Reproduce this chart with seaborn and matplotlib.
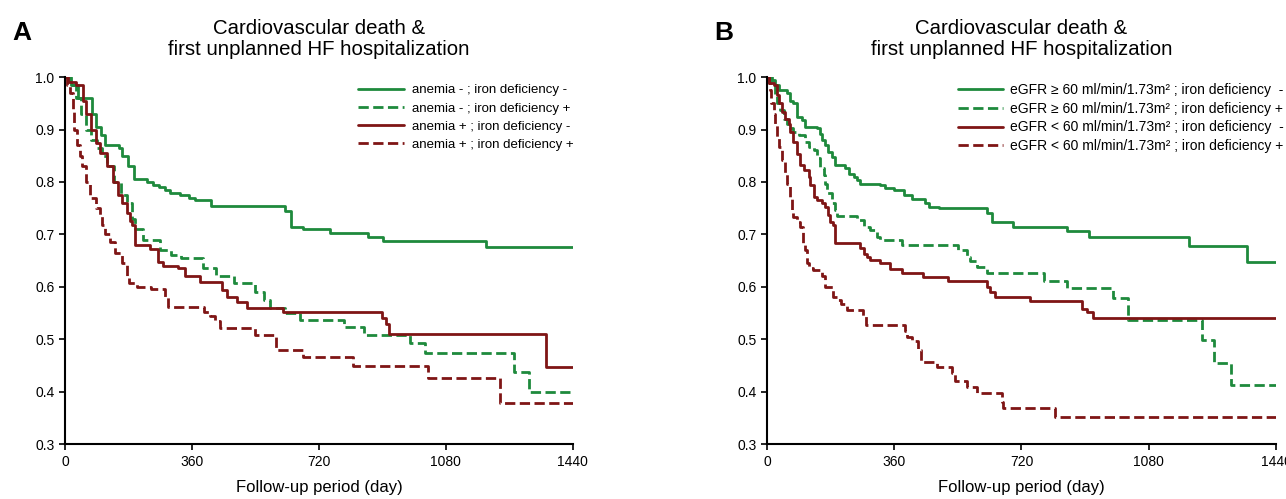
import pandas as pd
import seaborn as sns
import matplotlib.pyplot as plt

sns.set_style("ticks")
plt.rcParams['font.family'] = ['Liberation Sans', 'DejaVu Sans']
plt.rcParams['text.color'] = 'black'
plt.rcParams['xtick.color'] = 'black'
plt.rcParams['ytick.color'] = 'black'
plt.rcParams['axes.labelcolor'] = 'black'

GREEN = '#1e8a3c'
RED = '#7f1515'

# Panel A: anemia / iron deficiency (day, event-free probability)
a_neg_neg_day = [0, 16, 38, 76, 87, 103, 114, 152, 163, 179, 196, 234, 250, 266, 283, 299, 326, 353, 370, 413, 625, 641, 674, 750, 859, 902, 1195]
a_neg_neg_surv = [1.0, 0.985, 0.96, 0.93, 0.905, 0.89, 0.87, 0.865, 0.85, 0.83, 0.805, 0.80, 0.795, 0.79, 0.785, 0.778, 0.775, 0.77, 0.765, 0.755, 0.745, 0.715, 0.71, 0.702, 0.695, 0.688, 0.675]

a_neg_pos_day = [0, 15, 30, 45, 60, 75, 90, 105, 120, 140, 160, 175, 190, 200, 220, 270, 300, 330, 392, 428, 480, 540, 565, 580, 625, 665, 790, 848, 978, 1022, 1272, 1315]
a_neg_pos_surv = [1.0, 0.985, 0.96, 0.93, 0.90, 0.88, 0.865, 0.85, 0.83, 0.80, 0.775, 0.76, 0.73, 0.71, 0.69, 0.67, 0.66, 0.655, 0.636, 0.62, 0.608, 0.59, 0.575, 0.56, 0.55, 0.537, 0.524, 0.508, 0.492, 0.473, 0.438, 0.40]

a_pos_neg_day = [0, 10, 30, 50, 60, 75, 87, 98, 120, 136, 150, 163, 175, 185, 190, 198, 240, 265, 278, 320, 340, 383, 445, 459, 487, 515, 618, 900, 910, 920, 1365]
a_pos_neg_surv = [1.0, 0.99, 0.985, 0.955, 0.93, 0.90, 0.875, 0.855, 0.83, 0.80, 0.775, 0.76, 0.74, 0.725, 0.717, 0.68, 0.672, 0.647, 0.64, 0.636, 0.62, 0.61, 0.594, 0.58, 0.571, 0.56, 0.552, 0.54, 0.53, 0.51, 0.447]

a_pos_pos_day = [0, 5, 15, 22, 27, 33, 43, 49, 60, 71, 87, 99, 105, 113, 128, 142, 161, 175, 182, 203, 245, 285, 292, 395, 411, 425, 439, 538, 598, 675, 818, 1030, 1232]
a_pos_pos_surv = [1.0, 0.985, 0.97, 0.94, 0.90, 0.87, 0.85, 0.83, 0.80, 0.77, 0.75, 0.735, 0.717, 0.70, 0.685, 0.665, 0.645, 0.62, 0.607, 0.60, 0.595, 0.58, 0.562, 0.552, 0.545, 0.535, 0.522, 0.508, 0.48, 0.466, 0.449, 0.427, 0.378]

# Panel B: eGFR / iron deficiency
b_hi_neg_day = [0, 9, 24, 33, 57, 66, 75, 85, 99, 108, 141, 151, 156, 165, 174, 184, 193, 222, 231, 245, 255, 264, 321, 335, 358, 387, 410, 448, 457, 486, 622, 636, 696, 850, 911, 1193, 1359]
b_hi_neg_surv = [1.0, 0.994, 0.984, 0.975, 0.969, 0.955, 0.95, 0.924, 0.918, 0.905, 0.902, 0.892, 0.88, 0.87, 0.857, 0.848, 0.832, 0.826, 0.816, 0.81, 0.803, 0.797, 0.794, 0.788, 0.784, 0.775, 0.768, 0.759, 0.753, 0.75, 0.74, 0.723, 0.714, 0.706, 0.695, 0.678, 0.648]

b_hi_pos_day = [0, 14, 24, 28, 38, 47, 57, 66, 75, 90, 108, 118, 132, 141, 151, 160, 165, 170, 184, 193, 198, 255, 275, 291, 311, 320, 382, 541, 566, 575, 594, 622, 783, 849, 979, 1021, 1231, 1265, 1313]
b_hi_pos_surv = [1.0, 0.988, 0.965, 0.95, 0.937, 0.92, 0.911, 0.902, 0.895, 0.889, 0.876, 0.867, 0.86, 0.845, 0.826, 0.813, 0.797, 0.778, 0.759, 0.746, 0.735, 0.727, 0.715, 0.708, 0.695, 0.689, 0.68, 0.67, 0.657, 0.65, 0.638, 0.626, 0.612, 0.598, 0.579, 0.537, 0.498, 0.455, 0.413]

b_lo_neg_day = [0, 5, 19, 28, 33, 42, 52, 61, 66, 75, 85, 94, 104, 118, 123, 132, 141, 156, 165, 172, 178, 186, 192, 263, 275, 282, 291, 320, 348, 382, 441, 512, 622, 630, 645, 744, 891, 905, 921]
b_lo_neg_surv = [1.0, 0.988, 0.984, 0.965, 0.95, 0.934, 0.92, 0.911, 0.895, 0.876, 0.854, 0.832, 0.822, 0.81, 0.794, 0.772, 0.765, 0.759, 0.753, 0.737, 0.724, 0.718, 0.683, 0.674, 0.662, 0.657, 0.651, 0.645, 0.634, 0.626, 0.618, 0.611, 0.60, 0.59, 0.58, 0.573, 0.557, 0.552, 0.541]

b_lo_pos_day = [0, 5, 9, 11, 19, 24, 28, 33, 42, 52, 57, 66, 71, 75, 85, 94, 102, 107, 113, 118, 130, 150, 156, 164, 187, 198, 210, 226, 272, 280, 390, 396, 410, 427, 435, 481, 523, 532, 566, 594, 665, 668, 815]
b_lo_pos_surv = [1.0, 0.988, 0.975, 0.95, 0.93, 0.911, 0.886, 0.867, 0.842, 0.816, 0.797, 0.772, 0.746, 0.734, 0.724, 0.714, 0.683, 0.67, 0.645, 0.635, 0.632, 0.628, 0.62, 0.60, 0.58, 0.575, 0.568, 0.556, 0.545, 0.527, 0.515, 0.504, 0.497, 0.48, 0.457, 0.447, 0.435, 0.42, 0.408, 0.397, 0.38, 0.369, 0.352]

a_labels = ['anemia - ; iron deficiency -', 'anemia - ; iron deficiency +',
            'anemia + ; iron deficiency -', 'anemia + ; iron deficiency +']
b_labels = ['eGFR \u2265 60 ml/min/1.73m\u00b2 ; iron deficiency  -',
            'eGFR \u2265 60 ml/min/1.73m\u00b2 ; iron deficiency +',
            'eGFR < 60 ml/min/1.73m\u00b2 ; iron deficiency  -',
            'eGFR < 60 ml/min/1.73m\u00b2 ; iron deficiency +']

x_ticks = [0, 360, 720, 1080, 1440]
y_ticks = [0.3, 0.4, 0.5, 0.6, 0.7, 0.8, 0.9, 1.0]

panels = [
    ('A', [(a_neg_neg_day, a_neg_neg_surv), (a_neg_pos_day, a_neg_pos_surv),
           (a_pos_neg_day, a_pos_neg_surv), (a_pos_pos_day, a_pos_pos_surv)], a_labels),
    ('B', [(b_hi_neg_day, b_hi_neg_surv), (b_hi_pos_day, b_hi_pos_surv),
           (b_lo_neg_day, b_lo_neg_surv), (b_lo_pos_day, b_lo_pos_surv)], b_labels),
]
colors = [GREEN, GREEN, RED, RED]
styles = ['-', '--', '-', '--']

fig = plt.figure(figsize=(12.86, 4.99), dpi=100)
axes = [fig.add_axes([0.0505, 0.110, 0.395, 0.7355]),
        fig.add_axes([0.5964, 0.110, 0.3958, 0.7355])]

for ax, (letter, series, labels) in zip(axes, panels):
    for (d, s), lab, c, ls in zip(series, labels, colors, styles):
        df = pd.DataFrame({'day': d + [1440], 'surv': s + [s[-1]]})
        sns.lineplot(data=df, x='day', y='surv', ax=ax, drawstyle='steps-post',
                     color=c, linestyle=ls, linewidth=2, label=lab)
    ax.set_xlim(0, 1440)
    ax.set_ylim(0.3, 1.0)
    ax.set_xticks(x_ticks)
    ax.set_yticks(y_ticks)
    ax.set_yticklabels([f'{v:.1f}' for v in y_ticks])
    ax.tick_params(labelsize=10, width=1.2, length=4, color='black')
    for sp in ['left', 'bottom']:
        ax.spines[sp].set_linewidth(1.5)
        ax.spines[sp].set_color('black')
    sns.despine(ax=ax)
    ax.set_xlabel('Follow-up period (day)', fontsize=12, labelpad=8)
    ax.set_ylabel('')
    ax.set_title('Cardiovascular death &\nfirst unplanned HF hospitalization',
                 fontsize=14.7, pad=16, linespacing=1.15)
    ax.text(-0.104, 1.10, letter, transform=ax.transAxes, fontsize=19,
            fontweight='bold', va='baseline', ha='left')

axes[0].legend(loc='upper right', bbox_to_anchor=(1.012, 0.995), frameon=False,
               fontsize=9.5, handlelength=3.5, handletextpad=0.6,
               labelspacing=0.45, borderaxespad=0)
axes[1].legend(loc='upper right', bbox_to_anchor=(1.027, 1.0), frameon=False,
               fontsize=10, handlelength=3.3, handletextpad=0.5,
               labelspacing=0.35, borderaxespad=0)

plt.savefig('out.png', dpi=100)
